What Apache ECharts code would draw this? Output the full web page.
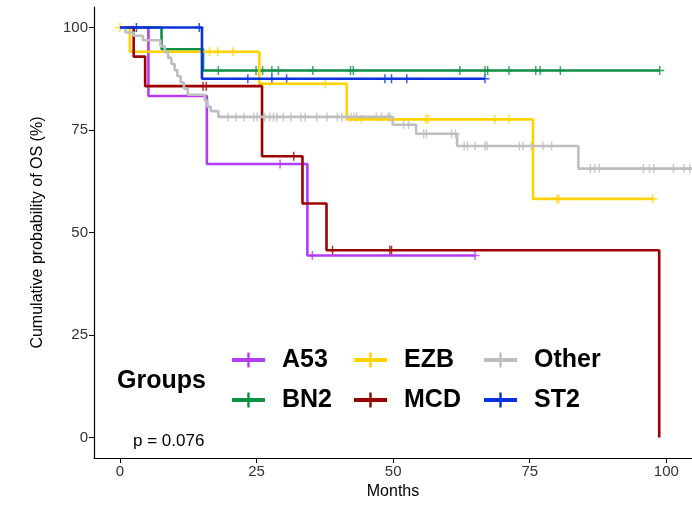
<!DOCTYPE html>
<html>
<head>
<meta charset="utf-8">
<script src="https://cdn.jsdelivr.net/npm/echarts@6/dist/echarts.min.js"></script>
<style>
  html, body { margin: 0; padding: 0; background: #fff; }
  #chart { width: 692px; height: 505px; }
</style>
</head>
<body>
<div id="chart"></div>
<script>
// Kaplan-Meier curves: step times, survival (%) and censor times per group
const groups = ["A53", "BN2", "EZB", "MCD", "Other", "ST2"];
const colors = ["#B23CF5", "#0E9144", "#FFD200", "#9C0000", "#BEBEBE", "#0A32E0"];

const a53Time = [0, 5.2, 15.9, 34.3, 65.0];
const a53Surv = [100, 83.3, 66.7, 44.4, 44.4];
const a53Cens = [29.3, 35.2, 65.0];

const bn2Time = [0, 7.6, 15.2, 98.8];
const bn2Surv = [100, 94.7, 89.5, 89.5];
const bn2Cens = [18.0, 24.9, 26.1, 27.8, 29.0, 35.3, 42.2, 42.7, 62.2, 66.8, 67.3, 71.2, 76.1, 76.9, 80.6, 98.8];

const ezbTime = [0, 1.8, 25.5, 41.5, 75.6, 97.5];
const ezbSurv = [100, 94.1, 86.3, 77.6, 58.2, 58.2];
const ezbCens = [0, 16.4, 17.9, 20.7, 37.6, 44.2, 56.0, 56.4, 68.6, 71.2, 80.0, 80.3, 97.5];

const mcdTime = [0, 2.5, 4.6, 26.0, 33.4, 37.8, 98.7];
const mcdSurv = [100, 92.9, 85.7, 68.6, 57.1, 45.7, 0];
const mcdCens = [15.2, 15.8, 31.8, 38.9, 49.4, 49.7];

const otherTime = [0, 1.0, 2.5, 4.2, 7.4, 8.2, 8.8, 9.4, 10.0, 10.5, 11.1, 11.7, 12.4, 15.5, 16.0, 16.6, 18.0, 49.9, 54.2, 61.7, 83.9, 104.7];
const otherSurv = [100, 98.8, 98.0, 96.9, 95.4, 94.0, 92.6, 91.1, 89.6, 88.1, 86.6, 85.1, 83.6, 82.2, 80.7, 79.6, 78.2, 76.3, 74.1, 71.1, 65.6, 65.6];
const otherCens = [19.8, 21.2, 22.7, 24.5, 25.1, 26.5, 27.4, 28.1, 28.7, 29.9, 31.3, 33.1, 33.9, 36.0, 37.9, 39.8, 40.6, 42.3, 42.8, 43.3,
  46.9, 47.9, 49.1, 49.4, 51.9, 52.8, 55.6, 56.1, 60.7, 61.4, 63.0, 63.6, 65.0, 66.8, 67.2, 73.1, 73.8, 75.3, 77.4, 79.0,
  86.1, 86.9, 87.7, 95.8, 96.9, 97.7, 101.3, 103.2, 104.3];

const st2Time = [0, 15.0, 66.8];
const st2Surv = [100, 87.5, 87.5];
const st2Cens = [3.0, 14.5, 23.4, 27.8, 30.5, 48.5, 49.7, 52.5, 66.8];

const tickValues = [0, 25, 50, 75, 100];

const curves = [
  [a53Time, a53Surv, a53Cens],
  [bn2Time, bn2Surv, bn2Cens],
  [ezbTime, ezbSurv, ezbCens],
  [mcdTime, mcdSurv, mcdCens],
  [otherTime, otherSurv, otherCens],
  [st2Time, st2Surv, st2Cens],
];

const font = '"Liberation Sans", Arial, sans-serif';
const plusSymbol = "path://M0,3.7L9,3.7L9,5.3L0,5.3Z M3.75,0L5.25,0L5.25,9L3.75,9Z";
const legendIcon = "path://M0,5.5L33,5.5L33,9.5L0,9.5Z M15.3,0L17.7,0L17.7,15L15.3,15Z";

// survival value of a step curve at time t
function survAt(time, surv, t) {
  let v = surv[0];
  for (let i = 0; i < time.length; i++) if (time[i] <= t) v = surv[i];
  return v;
}

const series = [];
curves.forEach(([time, surv, cens], i) => {
  series.push({
    name: groups[i],
    type: "line",
    step: "end",
    showSymbol: false,
    data: time.map((t, k) => [t, surv[k]]),
    itemStyle: { color: colors[i] },
    lineStyle: { color: colors[i], width: 2.6 },
    silent: true,
  });
  series.push({
    name: groups[i],
    type: "scatter",
    symbol: plusSymbol,
    symbolSize: 9,
    data: cens.map((t) => [t, survAt(time, surv, t)]),
    itemStyle: { color: colors[i] },
    silent: true,
  });
});

const legendBase = {
  orient: "vertical",
  top: 347,
  padding: 0,
  itemWidth: 33,
  itemHeight: 15,
  itemGap: 14,
  icon: legendIcon,
  selectedMode: false,
  itemStyle: { borderWidth: 0 },
  textStyle: { fontFamily: font, fontSize: 25, fontWeight: "bold", color: "#000", lineHeight: 26, padding: [0, 0, 0, 12] },
};

const chart = echarts.init(document.getElementById("chart"));
chart.setOption({
  animation: false,
  grid: { left: 94, right: 0, top: 7, bottom: 44 },
  xAxis: {
    type: "value",
    min: -4.76,
    max: 104.7,
    name: "Months",
    nameLocation: "middle",
    nameGap: 24,
    nameTextStyle: { fontFamily: font, fontSize: 16, color: "#000", verticalAlign: "top" },
    axisLine: { onZero: false, lineStyle: { color: "#000", width: 1.2 } },
    axisTick: { customValues: tickValues, length: 5, lineStyle: { color: "#000" } },
    axisLabel: { customValues: tickValues, margin: 6, fontFamily: font, fontSize: 15, color: "#333" },
    splitLine: { show: false },
  },
  yAxis: {
    type: "value",
    min: -5,
    max: 105,
    name: "Cumulative probability of OS (%)",
    nameLocation: "middle",
    nameGap: 48,
    nameTextStyle: { fontFamily: font, fontSize: 16, color: "#000" },
    axisLine: { show: true, onZero: false, lineStyle: { color: "#000", width: 1.2 } },
    axisTick: { show: true, customValues: tickValues, length: 5, lineStyle: { color: "#000" } },
    axisLabel: { customValues: tickValues, margin: 6, fontFamily: font, fontSize: 15, color: "#333" },
    splitLine: { show: false },
  },
  legend: [
    Object.assign({}, legendBase, { left: 232, data: ["A53", "BN2"] }),
    Object.assign({}, legendBase, { left: 354, data: ["EZB", "MCD"] }),
    Object.assign({}, legendBase, { left: 484, data: ["Other", "ST2"] }),
  ],
  graphic: [
    { type: "text", x: 117, y: 381, style: { text: "Groups", font: 'bold 25px "Liberation Sans"', fill: "#000", verticalAlign: "middle" } },
    { type: "text", x: 133, y: 441, style: { text: "p = 0.076", font: '17px "Liberation Sans"', fill: "#000", verticalAlign: "middle" } },
  ],
  series: series,
});
</script>
</body>
</html>
